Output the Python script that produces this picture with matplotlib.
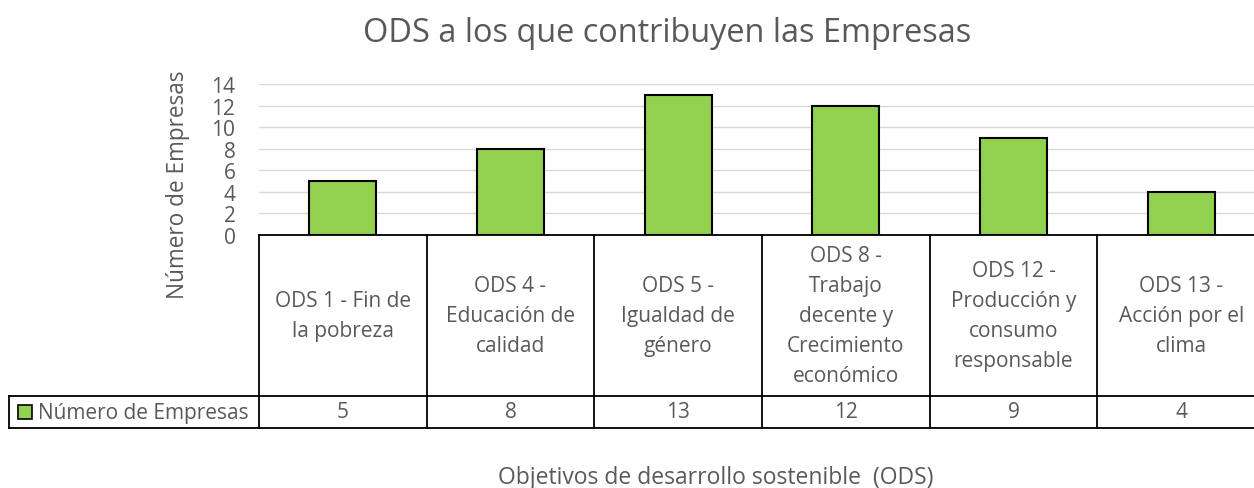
import matplotlib
matplotlib.use("Agg")
import matplotlib.pyplot as plt
from matplotlib.patches import Rectangle

# data
categories = ["ODS 1 - Fin de\nla pobreza",
              "ODS 4 -\nEducación de\ncalidad",
              "ODS 5 -\nIgualdad de\ngénero",
              "ODS 8 -\nTrabajo\ndecente y\nCrecimiento\neconómico",
              "ODS 12 -\nProducción y\nconsumo\nresponsable",
              "ODS 13 -\nAcción por el\nclima"]
values = [5, 8, 13, 12, 9, 4]
series_name = "Número de Empresas"
yticks = [0, 2, 4, 6, 8, 10, 12, 14]

plt.rcParams['font.family'] = ['Open Sans', 'DejaVu Sans']
grey = '#595959'
green = '#92D050'

W, H = 1254, 489
fig = plt.figure(figsize=(W / 100, H / 100), dpi=100)

# pixel layout (reference coords)
ax_l, ax_r, ax_t, ax_b = 259, 1265, 85, 236
tb_l, tb_b, row_t = 9, 429, 397
colw = (ax_r - ax_l) / len(values)

ax = fig.add_axes([ax_l / W, 1 - ax_b / H, (ax_r - ax_l) / W, (ax_b - ax_t) / H])
x = list(range(len(values)))
ax.bar(x, values, width=0.4, color=green, edgecolor='black', linewidth=1.5, zorder=3)
ax.set_xlim(-0.5, len(values) - 0.5)
ax.set_ylim(0, 14)
ax.set_yticks(yticks)
ax.set_xticks([])
ax.grid(axis='y', color='#D9D9D9', linewidth=1.0, zorder=0)
ax.tick_params(axis='y', length=0, pad=17, labelsize=15, labelcolor=grey)
for s in ['top', 'right', 'left']:
    ax.spines[s].set_visible(False)
ax.spines['bottom'].set_linewidth(1.3)

# data table below the axes
left_x = -0.5 - (ax_l - tb_l) / colw
tax = fig.add_axes([tb_l / W, 1 - tb_b / H, (ax_r - tb_l) / W, (tb_b - ax_b) / H])
tax.set_xlim(left_x, len(values) - 0.5)
tax.set_ylim(0, 1)
tax.axis('off')
split = (tb_b - row_t) / (tb_b - ax_b)
lw = 1.3
for i in range(len(values) + 1):
    tax.plot([i - 0.5, i - 0.5], [0, 1], color='black', lw=lw, clip_on=False)
tax.plot([left_x, left_x], [0, split], color='black', lw=lw, clip_on=False)
tax.plot([left_x, len(values) - 0.5], [split, split], color='black', lw=lw, clip_on=False)
tax.plot([left_x, len(values) - 0.5], [0, 0], color='black', lw=lw, clip_on=False)
for i, (c, v) in enumerate(zip(categories, values)):
    tax.text(i, (1 + split) / 2, c, ha='center', va='center', fontsize=15,
             color=grey, linespacing=1.55)
    tax.text(i, split / 2, str(v), ha='center', va='center', fontsize=15, color=grey)

# legend key inside the row label cell
kx = left_x + 9 / colw
tax.add_patch(Rectangle((kx, split / 2 - 7 / (tb_b - ax_b)), 14 / colw, 14 / (tb_b - ax_b),
                        facecolor=green, edgecolor='black', lw=1.2))
tax.text(kx + 20 / colw, split / 2, series_name, ha='left', va='center',
         fontsize=15, color=grey)

fig.text(667 / W, 1 - 33 / H, "ODS a los que contribuyen las Empresas",
         ha='center', va='center', fontsize=23.4, color=grey)
fig.text(178 / W, 1 - 185 / H, "Número de Empresas", rotation=90,
         ha='center', va='center', fontsize=16.3, color=grey)
fig.text(716 / W, 1 - 478 / H, "Objetivos de desarrollo sostenible  (ODS)",
         ha='center', va='center', fontsize=16.5, color=grey)

fig.savefig("out.png", dpi=100, facecolor='white')
